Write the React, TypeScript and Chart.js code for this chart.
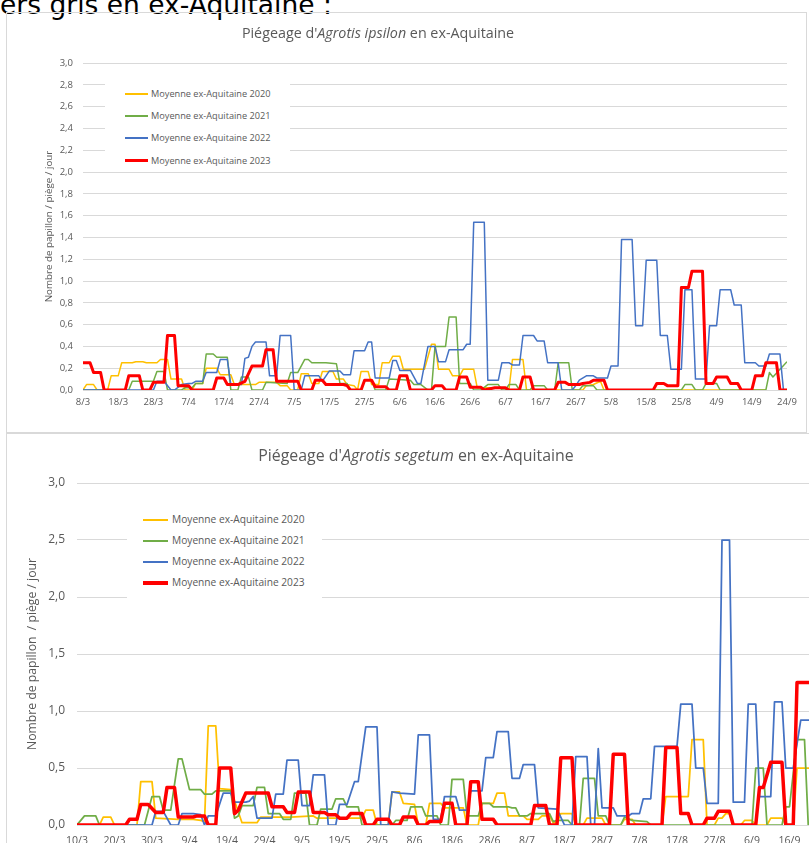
import React, { useEffect, useRef } from 'react';
import { Chart, registerables } from 'chart.js';

Chart.register(...registerables);

type Pt = [number, number]; // [day index, value]

const seriesNames = [
  'Moyenne ex-Aquitaine 2020',
  'Moyenne ex-Aquitaine 2021',
  'Moyenne ex-Aquitaine 2022',
  'Moyenne ex-Aquitaine 2023',
];
const seriesColors = ['#FFC000', '#70AD47', '#4472C4', '#FF0000'];

// ---------- Chart 1 : Agrotis ipsilon (day 0 = 8/3) ----------
const ipsilonDates = ['8/3', '18/3', '28/3', '7/4', '17/4', '27/4', '7/5', '17/5', '27/5', '6/6', '16/6', '26/6', '6/7', '16/7', '26/7', '5/8', '15/8', '25/8', '4/9', '14/9', '24/9'];

const ipsilon2020: Pt[] = [[0,0],[1,0.05],[3,0.05],[4,0],[7,0],[8,0.13],[10,0.13],[11,0.25],[14,0.25],[15,0.26],[17,0.26],[18,0.25],[21,0.25],[22,0.28],[24,0.28],[25,0.10],[28,0.10],[29,0],[31,0],[32,0.06],[34,0.06],[35,0.20],[38,0.20],[39,0.14],[42,0.14],[43,0.05],[49,0.05],[50,0.07],[55,0.07],[56,0.04],[58,0.04],[59,0],[61,0],[62,0.15],[64,0.15],[65,0.06],[67,0.06],[68,0.17],[71,0.17],[72,0.10],[74,0.10],[75,0.05],[77,0.04],[78,0],[79,0.17],[81,0.17],[82,0.05],[84,0.05],[85,0.25],[87,0.25],[88,0.31],[90,0.31],[91,0.19],[97,0.19],[99,0.42],[100,0.42],[101,0.19],[104,0.19],[105,0.13],[107,0.13],[108,0.19],[111,0.19],[112,0.02],[120,0.02],[121,0],[122,0.28],[125,0.28],[126,0],[142,0],[143,0.04],[145,0.05],[147,0.08],[148,0],[194,0]];

const ipsilon2021: Pt[] = [[0,0],[13,0],[14,0.08],[20,0.08],[21,0.17],[23,0.17],[24,0],[28,0],[29,0.02],[31,0.02],[32,0.06],[34,0.06],[35,0.33],[37,0.33],[38,0.30],[41,0.30],[42,0],[44,0],[45,0.12],[47,0.12],[48,0],[51,0],[52,0.07],[58,0.06],[59,0.16],[61,0.16],[63,0.28],[64,0.28],[65,0.25],[69,0.25],[72,0.24],[73,0.06],[75,0.06],[76,0],[79,0],[80,0.09],[82,0.09],[83,0],[86,0],[87,0.10],[93,0.09],[94,0.05],[96,0.05],[98,0],[99,0],[100,0.40],[103,0.40],[104,0.67],[106,0.67],[107,0.06],[110,0.06],[111,0],[113,0],[115,0.05],[118,0.05],[119,0],[120,0],[121,0.05],[123,0.05],[124,0],[127,0],[128,0.04],[131,0.04],[132,0],[134,0],[135,0.25],[138,0.25],[139,0],[141,0],[142,0.04],[145,0.04],[146,0],[170,0],[171,0.05],[173,0.05],[174,0],[176,0],[177,0.06],[180,0.06],[181,0],[194,0],[195,0.16],[196,0.12],[200,0.26]];

const ipsilon2022: Pt[] = [[0,0],[20,0],[21,0.08],[23,0.08],[25,0],[26,0],[28,0.05],[30,0.06],[31,0.06],[32,0.08],[34,0.08],[35,0.16],[38,0.16],[39,0.28],[41,0.28],[42,0.05],[45,0.05],[46,0.29],[47,0.30],[48,0.40],[49,0.44],[52,0.44],[53,0.13],[55,0.13],[56,0.50],[59,0.50],[60,0],[62,0],[63,0.13],[67,0.13],[68,0.08],[70,0.175],[73,0.175],[74,0.14],[76,0.14],[77,0.36],[80,0.36],[81,0.44],[82,0.44],[83,0.11],[87,0.11],[88,0.27],[89,0.27],[90,0.18],[93,0.18],[95,0.06],[96,0.06],[98,0.40],[100,0.40],[101,0.26],[103,0.26],[104,0.37],[108,0.37],[109,0.42],[110,0.42],[111,1.54],[114,1.54],[115,0.09],[118,0.09],[119,0.25],[121,0.25],[122,0.23],[124,0.23],[125,0.50],[128,0.50],[129,0.45],[131,0.45],[132,0.25],[135,0.25],[136,0],[139,0],[140,0.04],[141,0.09],[143,0.13],[145,0.13],[146,0.11],[149,0.11],[150,0.22],[152,0.22],[153,1.38],[156,1.38],[157,0.59],[159,0.59],[160,1.19],[163,1.19],[164,0.50],[166,0.50],[167,0.19],[170,0.19],[171,0.92],[173,0.92],[174,0.10],[177,0.10],[178,0.59],[180,0.59],[181,0.92],[184,0.92],[185,0.78],[187,0.78],[188,0.25],[191,0.25],[192,0.22],[194,0.22],[195,0.33],[198,0.33],[199,0],[200,0]];

const ipsilon2023: Pt[] = [[0,0.25],[2,0.25],[3,0.16],[5,0.16],[6,0],[12,0],[13,0.13],[16,0.13],[17,0],[19,0],[20,0.07],[23,0.07],[24,0.50],[26,0.50],[27,0.04],[30,0.04],[31,0],[37,0],[38,0.11],[40,0.11],[41,0.05],[44,0.05],[46,0.08],[48,0.22],[51,0.22],[52,0.37],[54,0.37],[55,0.08],[61,0.08],[62,0],[65,0],[66,0.09],[68,0.09],[69,0.05],[74,0.05],[75,0.04],[76,0],[79,0],[80,0.09],[82,0.09],[83,0.03],[86,0.03],[87,0],[89,0],[90,0.13],[92,0.13],[93,0],[99,0],[100,0.04],[102,0.04],[103,0],[106,0],[107,0.12],[109,0.12],[110,0.025],[113,0.025],[114,0],[117,0.02],[120,0.02],[121,0],[124,0],[125,0.12],[127,0.12],[128,0],[134,0],[135,0.07],[137,0.07],[138,0.05],[141,0.05],[142,0.06],[144,0.07],[145,0.09],[148,0.09],[149,0],[162,0],[163,0.06],[165,0.06],[166,0.04],[169,0.04],[170,0.94],[172,0.94],[173,1.09],[176,1.09],[177,0.06],[179,0.06],[180,0.12],[183,0.12],[184,0.06],[186,0.06],[187,0],[190,0],[191,0.13],[193,0.13],[194,0.25],[197,0.25],[198,0],[200,0]];

// ---------- Chart 2 : Agrotis segetum (day 0 = 10/3) ----------
const segetumDates = ['10/3', '20/3', '30/3', '9/4', '19/4', '29/4', '9/5', '19/5', '29/5', '8/6', '18/6', '28/6', '8/7', '18/7', '28/7', '7/8', '17/8', '27/8', '6/9', '16/9', '26/9'];

const segetum2020: Pt[] = [[0,0],[6,0],[7,0.07],[9,0.07],[10,0],[16,0],[17,0.38],[20,0.38],[21,0.06],[27,0.05],[31,0.05],[33,0.04],[34,0.03],[35,0.87],[37,0.87],[38,0.32],[41,0.31],[44,0.02],[48,0.02],[49,0.07],[57,0.07],[63,0.08],[64,0.06],[76,0.06],[77,0.13],[79,0.13],[80,0],[83,0],[84,0.29],[86,0.29],[87,0.19],[90,0.18],[91,0],[93,0],[94,0.19],[97,0.19],[98,0.15],[103,0.15],[104,0],[107,0],[108,0.19],[111,0.19],[112,0.28],[114,0.28],[115,0.08],[119,0.08],[120,0.05],[123,0.05],[124,0.08],[126,0.08],[127,0.02],[128,0.02],[129,0.10],[132,0.10],[133,0],[135,0],[136,0.06],[140,0.06],[141,0],[145,0],[146,0.05],[148,0.05],[149,0],[156,0],[157,0.25],[163,0.25],[164,0.75],[167,0.75],[168,0],[170,0],[171,0.06],[172,0.06],[173,0.10],[174,0.10],[175,0],[177,0],[178,0.04],[180,0.04],[181,0],[184,0],[185,0.06],[188,0.06],[189,0],[191,0],[192,0.50],[200,0.50]];

const segetum2021: Pt[] = [[0,0],[2,0.08],[5,0.08],[6,0],[18,0],[20,0.25],[22,0.25],[23,0.13],[25,0.13],[27,0.58],[28,0.58],[30,0.31],[33,0.31],[34,0.27],[36,0.27],[37,0.30],[41,0.30],[42,0.06],[43,0.08],[44,0.17],[47,0.17],[48,0.33],[50,0.33],[51,0.10],[54,0.10],[55,0.05],[57,0.05],[58,0.28],[61,0.28],[62,0],[64,0],[65,0.14],[68,0.14],[69,0.23],[71,0.23],[72,0.16],[75,0.16],[76,0],[84,0],[85,0.04],[88,0.04],[89,0.16],[92,0.16],[93,0.08],[96,0.08],[97,0],[99,0],[100,0.40],[103,0.40],[104,0.08],[107,0.08],[108,0.19],[110,0.19],[111,0.16],[115,0.16],[116,0.15],[117,0.15],[118,0.08],[120,0.08],[121,0.10],[126,0.10],[127,0.03],[128,0.04],[131,0.04],[132,0],[134,0],[135,0.41],[138,0.41],[139,0.08],[141,0.08],[142,0],[145,0],[146,0.07],[148,0.04],[152,0.03],[153,0],[180,0],[181,0.50],[183,0.50],[184,0],[188,0],[189,0.16],[190,0.16],[192,0.75],[194,0.75],[195,0],[200,0]];

const segetum2022: Pt[] = [[0,0],[20,0],[21,0.12],[23,0.12],[25,0],[27,0],[28,0.10],[31,0.10],[33,0.09],[34,0],[35,0.08],[37,0.08],[39,0.28],[41,0.28],[42,0.20],[45,0.20],[46,0.21],[47,0.25],[48,0.06],[52,0.06],[53,0.27],[55,0.27],[56,0.57],[59,0.57],[60,0.17],[62,0.17],[63,0.44],[66,0.44],[67,0],[69,0],[70,0.18],[72,0.18],[74,0.38],[75,0.38],[77,0.86],[80,0.86],[81,0],[83,0],[84,0.29],[86,0.28],[90,0.27],[91,0.79],[94,0.79],[95,0.05],[97,0.05],[98,0.25],[101,0.25],[102,0.13],[104,0.13],[105,0.30],[108,0.30],[109,0.59],[111,0.59],[112,0.82],[115,0.82],[116,0.41],[118,0.41],[119,0.53],[122,0.53],[123,0.15],[128,0.14],[130,0],[132,0],[133,0.60],[136,0.60],[137,0],[138,0],[139,0.67],[140,0.15],[143,0.15],[144,0.08],[147,0.08],[148,0.10],[150,0.10],[151,0.23],[153,0.23],[154,0.69],[160,0.69],[161,1.06],[164,1.06],[165,0.50],[167,0.50],[168,0.19],[171,0.19],[172,2.50],[174,2.50],[175,0.20],[178,0.20],[179,1.06],[181,1.06],[182,0.25],[185,0.25],[186,1.08],[188,1.08],[189,0.50],[191,0.50],[193,0.92],[200,0.92]];

const segetum2023: Pt[] = [[0,0],[13,0],[14,0.05],[16,0.05],[17,0.18],[19,0.18],[21,0.11],[23,0.11],[24,0.33],[26,0.33],[27,0.07],[31,0.07],[32,0.08],[34,0.08],[35,0],[37,0],[38,0.50],[41,0.50],[42,0.10],[43,0.13],[45,0.28],[51,0.28],[52,0.16],[55,0.16],[56,0.11],[58,0.11],[59,0.29],[62,0.29],[63,0.11],[66,0.11],[67,0.09],[69,0.09],[70,0.06],[72,0.06],[73,0.10],[76,0.10],[77,0],[79,0],[80,0.05],[83,0.05],[84,0],[86,0],[87,0.07],[90,0.07],[91,0],[93,0],[94,0.03],[97,0.03],[98,0.19],[100,0.19],[101,0],[104,0],[105,0.38],[107,0.38],[108,0.05],[111,0.05],[112,0],[121,0],[122,0.17],[125,0.17],[126,0],[128,0],[129,0.59],[132,0.59],[133,0],[142,0],[143,0.62],[146,0.62],[147,0],[156,0],[157,0.68],[160,0.68],[161,0.10],[163,0.10],[164,0],[167,0],[168,0.06],[170,0.06],[171,0.12],[174,0.12],[175,0],[181,0],[182,0.33],[183,0.33],[185,0.55],[188,0.55],[189,0],[191,0],[192,1.25],[200,1.25]];

const yAxisTitle1 = 'Nombre de papillon / piège / jour';
const yAxisTitle2 = 'Nombre de papillon  / piège / jour';

const FONT = '"Open Sans", sans-serif';
const TXT = '#595959';
const GRID = '#d9d9d9';

interface Cfg {
  w: number; h: number;
  series: Pt[][];
  widths: number[];
  xLabels: string[];
  yMax: number; yStep: number;
  padTop: number; padRight: number;
  yAxisW: number; xAxisH: number;
  yTickFont: number; yTickPad: number;
  xTickFont: number; xTickPad: number;
  yTitle: string; yTitleFont: number; yTitlePad: number;
}

function TrapCanvas({ cfg }: { cfg: Cfg }) {
  const ref = useRef<HTMLCanvasElement>(null);
  useEffect(() => {
    const canvas = ref.current;
    if (!canvas) return;
    const chart = new Chart(canvas, {
      type: 'line',
      data: {
        datasets: cfg.series.map((s, i) => ({
          label: seriesNames[i],
          data: s.map(([x, y]) => ({ x, y })),
          borderColor: seriesColors[i],
          backgroundColor: seriesColors[i],
          borderWidth: cfg.widths[i],
          pointRadius: 0,
          pointHoverRadius: 0,
          tension: 0,
          fill: false,
          order: cfg.series.length - 1 - i,
          borderJoinStyle: 'round',
          borderCapStyle: 'butt',
        })),
      },
      options: {
        animation: false,
        responsive: false,
        maintainAspectRatio: false,
        events: [],
        layout: { padding: { top: cfg.padTop, right: cfg.padRight, left: 0, bottom: 0 } },
        plugins: { legend: { display: false }, tooltip: { enabled: false }, title: { display: false } },
        scales: {
          x: {
            type: 'linear',
            min: 0,
            max: (cfg.xLabels.length - 1) * 10,
            grid: { display: false, drawTicks: false },
            border: { display: false },
            ticks: {
              stepSize: 10,
              autoSkip: false,
              maxRotation: 0,
              minRotation: 0,
              padding: cfg.xTickPad,
              color: TXT,
              font: { family: FONT, size: cfg.xTickFont },
              callback: (v: any) => cfg.xLabels[Math.round(Number(v) / 10)] ?? '',
            },
            afterFit: (a: any) => { a.height = cfg.xAxisH; },
          },
          y: {
            type: 'linear',
            min: 0,
            max: cfg.yMax,
            grid: { color: GRID, lineWidth: 1, drawTicks: false },
            border: { display: false },
            ticks: {
              stepSize: cfg.yStep,
              padding: cfg.yTickPad,
              color: TXT,
              font: { family: FONT, size: cfg.yTickFont },
              callback: (v: any) => Number(v).toFixed(1).replace('.', ','),
            },
            title: {
              display: true,
              text: cfg.yTitle,
              color: TXT,
              font: { family: FONT, size: cfg.yTitleFont },
              padding: { top: cfg.yTitlePad, bottom: 0 },
            },
            afterFit: (a: any) => { a.width = cfg.yAxisW; },
          },
        },
      } as any,
    });
    return () => chart.destroy();
  }, []);
  return (
    <canvas
      ref={ref}
      width={cfg.w}
      height={cfg.h}
      style={{ position: 'absolute', left: 0, top: 0, width: cfg.w, height: cfg.h }}
    />
  );
}

function Legend({ left, top, width, height, rowY, rowGap, swX, swW, textX, font, thick }: any) {
  return (
    <div style={{ position: 'absolute', left, top, width, height, background: '#fff' }}>
      {seriesNames.map((n, i) => (
        <div key={n} style={{ position: 'absolute', left: 0, top: rowY + i * rowGap, height: 0 }}>
          <div style={{ position: 'absolute', left: swX, top: -thick[i] / 2, width: swW, height: thick[i], background: seriesColors[i] }} />
          <div style={{ position: 'absolute', left: textX, top: 0, transform: 'translateY(-50%)', whiteSpace: 'nowrap', fontFamily: FONT, fontSize: font, color: TXT, lineHeight: 1.3 }}>{n}</div>
        </div>
      ))}
    </div>
  );
}

const cfg1: Cfg = {
  w: 798, h: 419,
  series: [ipsilon2020, ipsilon2021, ipsilon2022, ipsilon2023],
  widths: [1.5, 1.5, 1.5, 3],
  xLabels: ipsilonDates,
  yMax: 3, yStep: 0.2,
  padTop: 50, padRight: 18,
  yAxisW: 76, xAxisH: 42,
  yTickFont: 9.5, yTickPad: 10,
  xTickFont: 9.5, xTickPad: 7,
  yTitle: yAxisTitle1, yTitleFont: 9.8, yTitlePad: 36,
};

const cfg2: Cfg = {
  w: 860, h: 430,
  series: [segetum2020, segetum2021, segetum2022, segetum2023],
  widths: [1.75, 1.75, 1.75, 3.5],
  xLabels: segetumDates,
  yMax: 3, yStep: 0.5,
  padTop: 49, padRight: 40,
  yAxisW: 70, xAxisH: 39,
  yTickFont: 12, yTickPad: 12,
  xTickFont: 10.5, xTickPad: 10,
  yTitle: yAxisTitle2, yTitleFont: 12.2, yTitlePad: 18,
};

export default function App() {
  return (
    <div style={{ position: 'fixed', left: 0, top: 0, width: 809, height: 843, overflow: 'hidden', background: '#fff' }}>
      <div style={{ position: 'absolute', left: 0, top: -8, fontFamily: '"DejaVu Sans", sans-serif', fontSize: 26.5, lineHeight: '26px', whiteSpace: 'nowrap', color: '#000' }}>
        ers gris en ex-Aquitaine :
      </div>

      <div style={{ position: 'absolute', left: 6, top: 12, width: 801, height: 421, border: `1px solid ${GRID}`, boxSizing: 'border-box' }}>
        <TrapCanvas cfg={cfg1} />
        <div style={{ position: 'absolute', left: 371, top: 19, transform: 'translate(-50%, -50%)', whiteSpace: 'nowrap', fontFamily: FONT, fontSize: 14.3, color: TXT }}>
          Piégeage d'<i>Agrotis ipsilon</i> en ex-Aquitaine
        </div>
        <Legend left={98} top={62} width={185} height={96} rowY={19} rowGap={22.2} swX={20} swW={23} textX={46} font={9.2} thick={[2, 2, 2, 3]} />
      </div>

      <div style={{ position: 'absolute', left: 6, top: 433, width: 900, height: 500, border: `1px solid ${GRID}`, boxSizing: 'border-box' }}>
        <TrapCanvas cfg={cfg2} />
        <div style={{ position: 'absolute', left: 409, top: 21, transform: 'translate(-50%, -50%)', whiteSpace: 'nowrap', fontFamily: FONT, fontSize: 15.9, color: TXT }}>
          Piégeage d'<i>Agrotis segetum</i> en ex-Aquitaine
        </div>
        <Legend left={120} top={71} width={195} height={96} rowY={15} rowGap={21.1} swX={16} swW={25} textX={45} font={10.2} thick={[2, 2, 2, 4]} />
      </div>
    </div>
  );
}
